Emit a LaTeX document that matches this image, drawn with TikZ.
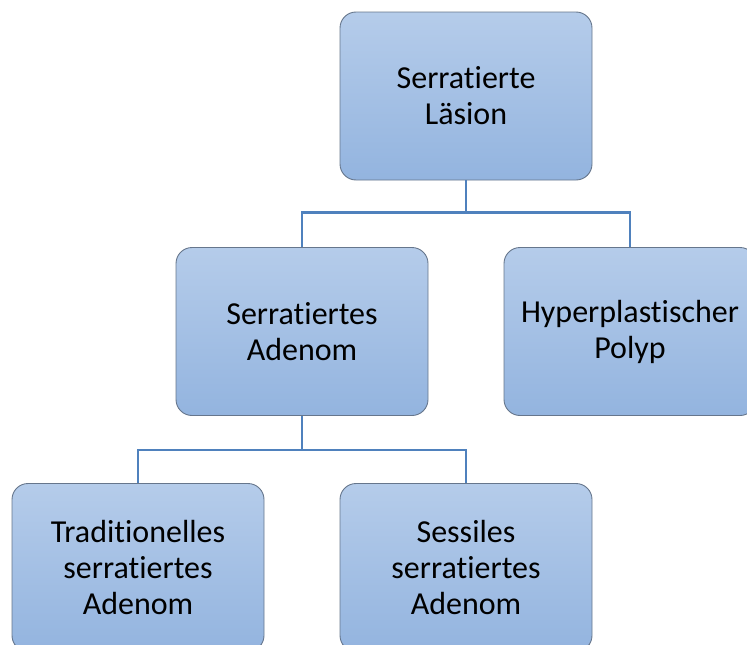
\documentclass[tikz,border=0pt]{standalone}
\usepackage{fontspec}
\setmainfont{Carlito}[Ligatures={NoCommon}]
\usepackage{tikz}
\usetikzlibrary{positioning,calc}
\definecolor{boxtop}{HTML}{B5CCEA}
\definecolor{boxbot}{HTML}{93B4DF}
\definecolor{boxline}{HTML}{66768C}
\definecolor{wire}{HTML}{4F81BD}

\begin{document}
\begin{tikzpicture}[x=1pt,y=-1pt,
  orgbox/.style={draw=boxline,line width=0.9pt,rounded corners=16pt,
    top color=boxtop,bottom color=boxbot,
    minimum width=252pt,minimum height=168pt,text width=245pt,
    align=center,font=\fontsize{32}{36}\selectfont},
  wire/.style={draw=wire,line width=2.6pt}]
\useasboundingbox (0,0) rectangle (747,645);
\clip (0,0) rectangle (747,645);
% upper level
\node[orgbox] (lesion) at (466,96) {Serratierte\\Läsion};
\node[orgbox] (adenom) at (302,331.5) {Serratiertes\\Adenom};
\node[orgbox] (polyp) at (630,331.5) {Hyperplastischer\\Polyp};
% lower level
\node[orgbox] (tsa) at (138,567.5) {Traditionelles\\serratiertes\\Adenom};
\node[orgbox] (ssa) at (466,567.5) {Sessiles\\serratiertes\\Adenom};
% connectors
\coordinate (bus1) at ($(lesion.south)+(0,32)$);
\coordinate (bus2) at ($(adenom.south)+(0,34)$);
\draw[wire] (lesion.south) -- (bus1) -| (adenom.north);
\draw[wire] (bus1) -| (polyp.north);
\draw[wire] (adenom.south) -- (bus2) -| (tsa.north);
\draw[wire] (bus2) -| (ssa.north);
\end{tikzpicture}
\end{document}
